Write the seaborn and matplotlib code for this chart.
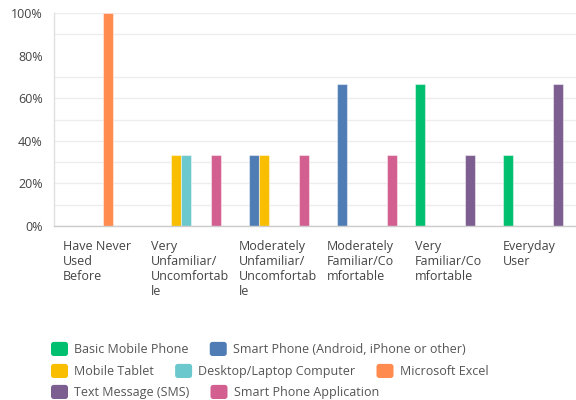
import matplotlib
matplotlib.use("Agg")
import matplotlib.pyplot as plt
import seaborn as sns
import pandas as pd
from matplotlib.patches import FancyBboxPatch
from matplotlib.legend_handler import HandlerPatch
from matplotlib.ticker import MultipleLocator, FuncFormatter

categories = [
    "Have Never Used Before",
    "Very Unfamiliar/Uncomfortable",
    "Moderately Unfamiliar/Uncomfortable",
    "Moderately Familiar/Comfortable",
    "Very Familiar/Comfortable",
    "Everyday User",
]
tick_labels = [
    "Have Never\nUsed\nBefore",
    "Very\nUnfamiliar/\nUncomfortab\nle",
    "Moderately\nUnfamiliar/\nUncomfortab\nle",
    "Moderately\nFamiliar/Co\nmfortable",
    "Very\nFamiliar/Co\nmfortable",
    "Everyday\nUser",
]
series_names = [
    "Basic Mobile Phone",
    "Smart Phone (Android, iPhone or other)",
    "Mobile Tablet",
    "Desktop/Laptop Computer",
    "Microsoft Excel",
    "Text Message (SMS)",
    "Smart Phone Application",
]
basic_mobile = [0, 0, 0, 0, 66.67, 33.33]
smart_phone = [0, 0, 33.33, 66.67, 0, 0]
mobile_tablet = [0, 33.33, 33.33, 0, 0, 0]
desktop = [0, 33.33, 0, 0, 0, 0]
excel = [100, 0, 0, 0, 0, 0]
sms = [0, 0, 0, 0, 33.33, 66.67]
app = [0, 33.33, 33.33, 33.33, 0, 0]
series_values = [basic_mobile, smart_phone, mobile_tablet, desktop, excel, sms, app]
colors = ["#00BF6F", "#507CB6", "#F9BE00", "#6BC8CD", "#FF8B4F", "#7D5E90", "#D25F90"]

rows = []
for name, vals in zip(series_names, series_values):
    for cat, v in zip(categories, vals):
        rows.append({"category": cat, "value": v, "series": name})
df = pd.DataFrame(rows)

sns.set_style("white")
plt.rcParams["font.family"] = ["Open Sans", "DejaVu Sans"]

fig = plt.figure(figsize=(5.76, 4.0), dpi=100)
ax = fig.add_axes([54 / 576, 174 / 400, 528 / 576, 213 / 400])

sns.barplot(data=df, x="category", y="value", hue="series", order=categories,
            hue_order=series_names, palette=colors, width=0.8, saturation=1, ax=ax,
            edgecolor=(1, 1, 1, 0.45), linewidth=0.8, legend=False)

ax.set_xlim(-0.5, 5.5)
ax.set_ylim(0, 100)
ax.yaxis.set_major_locator(MultipleLocator(20))
ax.yaxis.set_minor_locator(MultipleLocator(10))
ax.yaxis.set_major_formatter(FuncFormatter(lambda v, p: f"{int(v)}%"))
ax.grid(axis="y", which="both", color="#EDEDED", linewidth=1)
ax.set_axisbelow(True)
for gl in ax.yaxis.get_gridlines():
    if abs(gl.get_ydata()[0] - 100) < 1e-6:
        gl.set_visible(False)
ax.set_xlabel("")
ax.set_ylabel("")
ax.set_xticks([i - 0.4 for i in range(len(categories))])
ax.set_xticklabels(tick_labels, ha="left", va="top", linespacing=1.2)
ax.tick_params(axis="x", length=0, pad=10, labelsize=9, labelcolor="#444444")
ax.tick_params(axis="y", which="both", length=0, pad=8, labelsize=9, labelcolor="#444444")
for s in ["top", "right"]:
    ax.spines[s].set_visible(False)
ax.spines["left"].set_color("#E0E0E0")
ax.spines["bottom"].set_color("#CCCCCC")
ax.spines["left"].set_linewidth(1)
ax.spines["bottom"].set_linewidth(1)


class RoundHandler(HandlerPatch):
    def create_artists(self, legend, orig_handle, xdescent, ydescent, width, height, fontsize, trans):
        p = FancyBboxPatch((-xdescent + 1.5, -ydescent + 1.5), width - 3, height - 3,
                           boxstyle="round,pad=1.5,rounding_size=2",
                           facecolor=orig_handle.get_facecolor(), edgecolor="none",
                           transform=trans)
        return [p]


bars = {}
for cont, name in zip(ax.containers, series_names):
    bars[name] = cont.patches[0]

legend_rows = [
    ([0, 1], 349),
    ([2, 3, 4], 371),
    ([5, 6], 392),
]
for idx, ypix in legend_rows:
    handles = [bars[series_names[i]] for i in idx]
    labels = [series_names[i] for i in idx]
    leg = fig.legend(handles, labels, loc="center left",
                     bbox_to_anchor=(51 / 576, 1 - ypix / 400), ncol=len(idx),
                     frameon=False, fontsize=9, handlelength=1.36, handleheight=1.36,
                     handletextpad=0.48, columnspacing=1.7, borderpad=0, borderaxespad=0,
                     handler_map={type(handles[0]): RoundHandler()})
    for t in leg.get_texts():
        t.set_color("#555555")

fig.savefig("out.png", dpi=100)
